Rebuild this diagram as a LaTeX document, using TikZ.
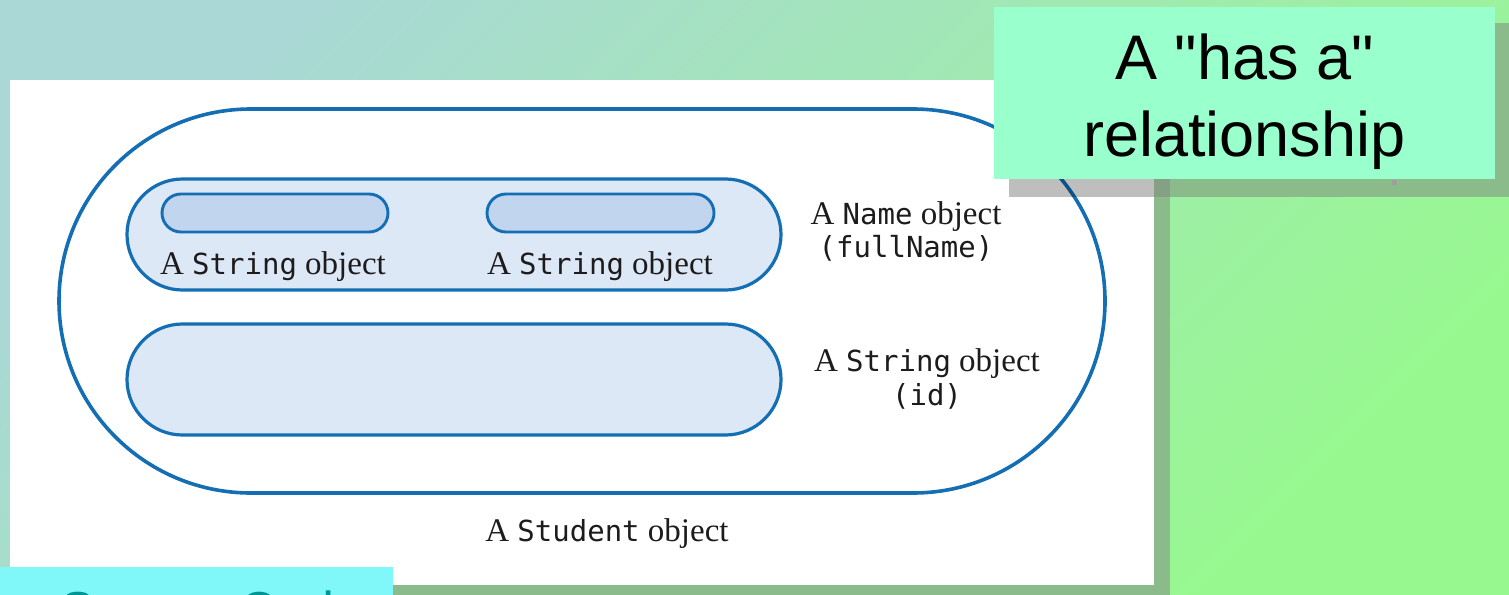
\documentclass[tikz,border=0pt]{standalone}
\usepackage{fontspec}
\setmainfont{Liberation Serif}
\newfontfamily\jmono{DejaVu Sans Mono}
\newfontfamily\jarial{Liberation Sans}
\usetikzlibrary{shapes.misc}
\definecolor{bluestroke}{RGB}{20,110,180}
\definecolor{lightfill}{RGB}{220,232,246}
\definecolor{midfill}{RGB}{194,213,238}
\definecolor{bgteal}{RGB}{170,216,214}
\definecolor{bggreen}{RGB}{152,248,144}
\definecolor{shadowgreen}{RGB}{139,187,139}
\definecolor{shadowdark}{RGB}{134,160,134}
\definecolor{titlefill}{RGB}{153,255,204}
\definecolor{cyanfill}{RGB}{128,247,248}
\definecolor{tealtext}{RGB}{0,150,150}
\definecolor{inktext}{RGB}{30,27,28}
\newcommand\jcode[1]{{\jmono\fontsize{29}{34}\selectfont #1}}
\begin{document}
\begin{tikzpicture}[x=1pt,y=-1pt,
  objshape/.style={rounded rectangle, draw=bluestroke, line width=3.2pt, inner sep=0pt, outer sep=0pt},
  lbl/.style={anchor=base, inner sep=0pt, text=inktext, font=\fontsize{33}{34}\selectfont},
  shadowpart/.style={fill=shadowgreen},
]
\useasboundingbox (0,0) rectangle (1509,594);
\clip (0,0) rectangle (1509,594);
% background
\shade[top color=bgteal, bottom color=bggreen, shading angle=45] (0,0) rectangle (1509,594);
% white panel with shadow
\fill[shadowpart] (26,96) rectangle (1170,600);
\fill[white] (10,80) rectangle (1154,585);
% objects
\node[objshape, line width=3.6pt, minimum width=1046pt, minimum height=384pt] (student) at (582,301) {};
\node[objshape, fill=lightfill, minimum width=654pt, minimum height=111pt] (name) at (454,234.5) {};
\node[objshape, fill=midfill, line width=2.9pt, minimum width=226pt, minimum height=38pt] (s1) at (275,213) {};
\node[objshape, fill=midfill, line width=2.9pt, minimum width=227pt, minimum height=38pt] (s2) at (600.5,213) {};
\node[objshape, fill=lightfill, minimum width=654pt, minimum height=111pt] (id) at (454,379.5) {};
% labels
\node[lbl] (s1lbl) at (273,274) {A \jcode{String} object};
\node[lbl] (s2lbl) at (600,274) {A \jcode{String} object};
\node[lbl] (namelbl) at (906,224) {A \jcode{Name} object};
\node[lbl] (namevar) at (906,257) {\jcode{(fullName)}};
\node[lbl] (idlbl) at (927,371) {A \jcode{String} object};
\node[lbl] (idvar) at (927,405) {\jcode{(id)}};
\node[lbl] (studlbl) at (607,541) {A \jcode{Student} object};
% title box shadow
\fill[shadowpart] (1154,23) rectangle (1515,197);
\fill[shadowpart] (1009,23) rectangle (1154,80);
\fill[shadowdark] (1154,96) rectangle (1170,197);
\fill[black, opacity=0.255] (1009,80) rectangle (1154,197);
\fill[black!38] (1392,180) rectangle (1397,185);
% title box
\node[fill=titlefill, minimum width=501pt, minimum height=172pt, inner sep=0pt, outer sep=0pt, anchor=north west] (hasbox) at (994,7) {};
\node[anchor=north, inner sep=0pt, align=center, font=\jarial\fontsize{63}{77}\selectfont] (hastext) at (1244.5,34) {A "has a"\\relationship};
% source code box
\node[fill=cyanfill, minimum width=393pt, minimum height=40pt, inner sep=0pt, outer sep=0pt, anchor=north west] (srcbox) at (0,567) {};
\node[anchor=base west, inner sep=0pt, text=tealtext, font=\jarial\fontsize{52}{60}\selectfont] (srctext) at (60,628) {Source Code};
\end{tikzpicture}
\end{document}
